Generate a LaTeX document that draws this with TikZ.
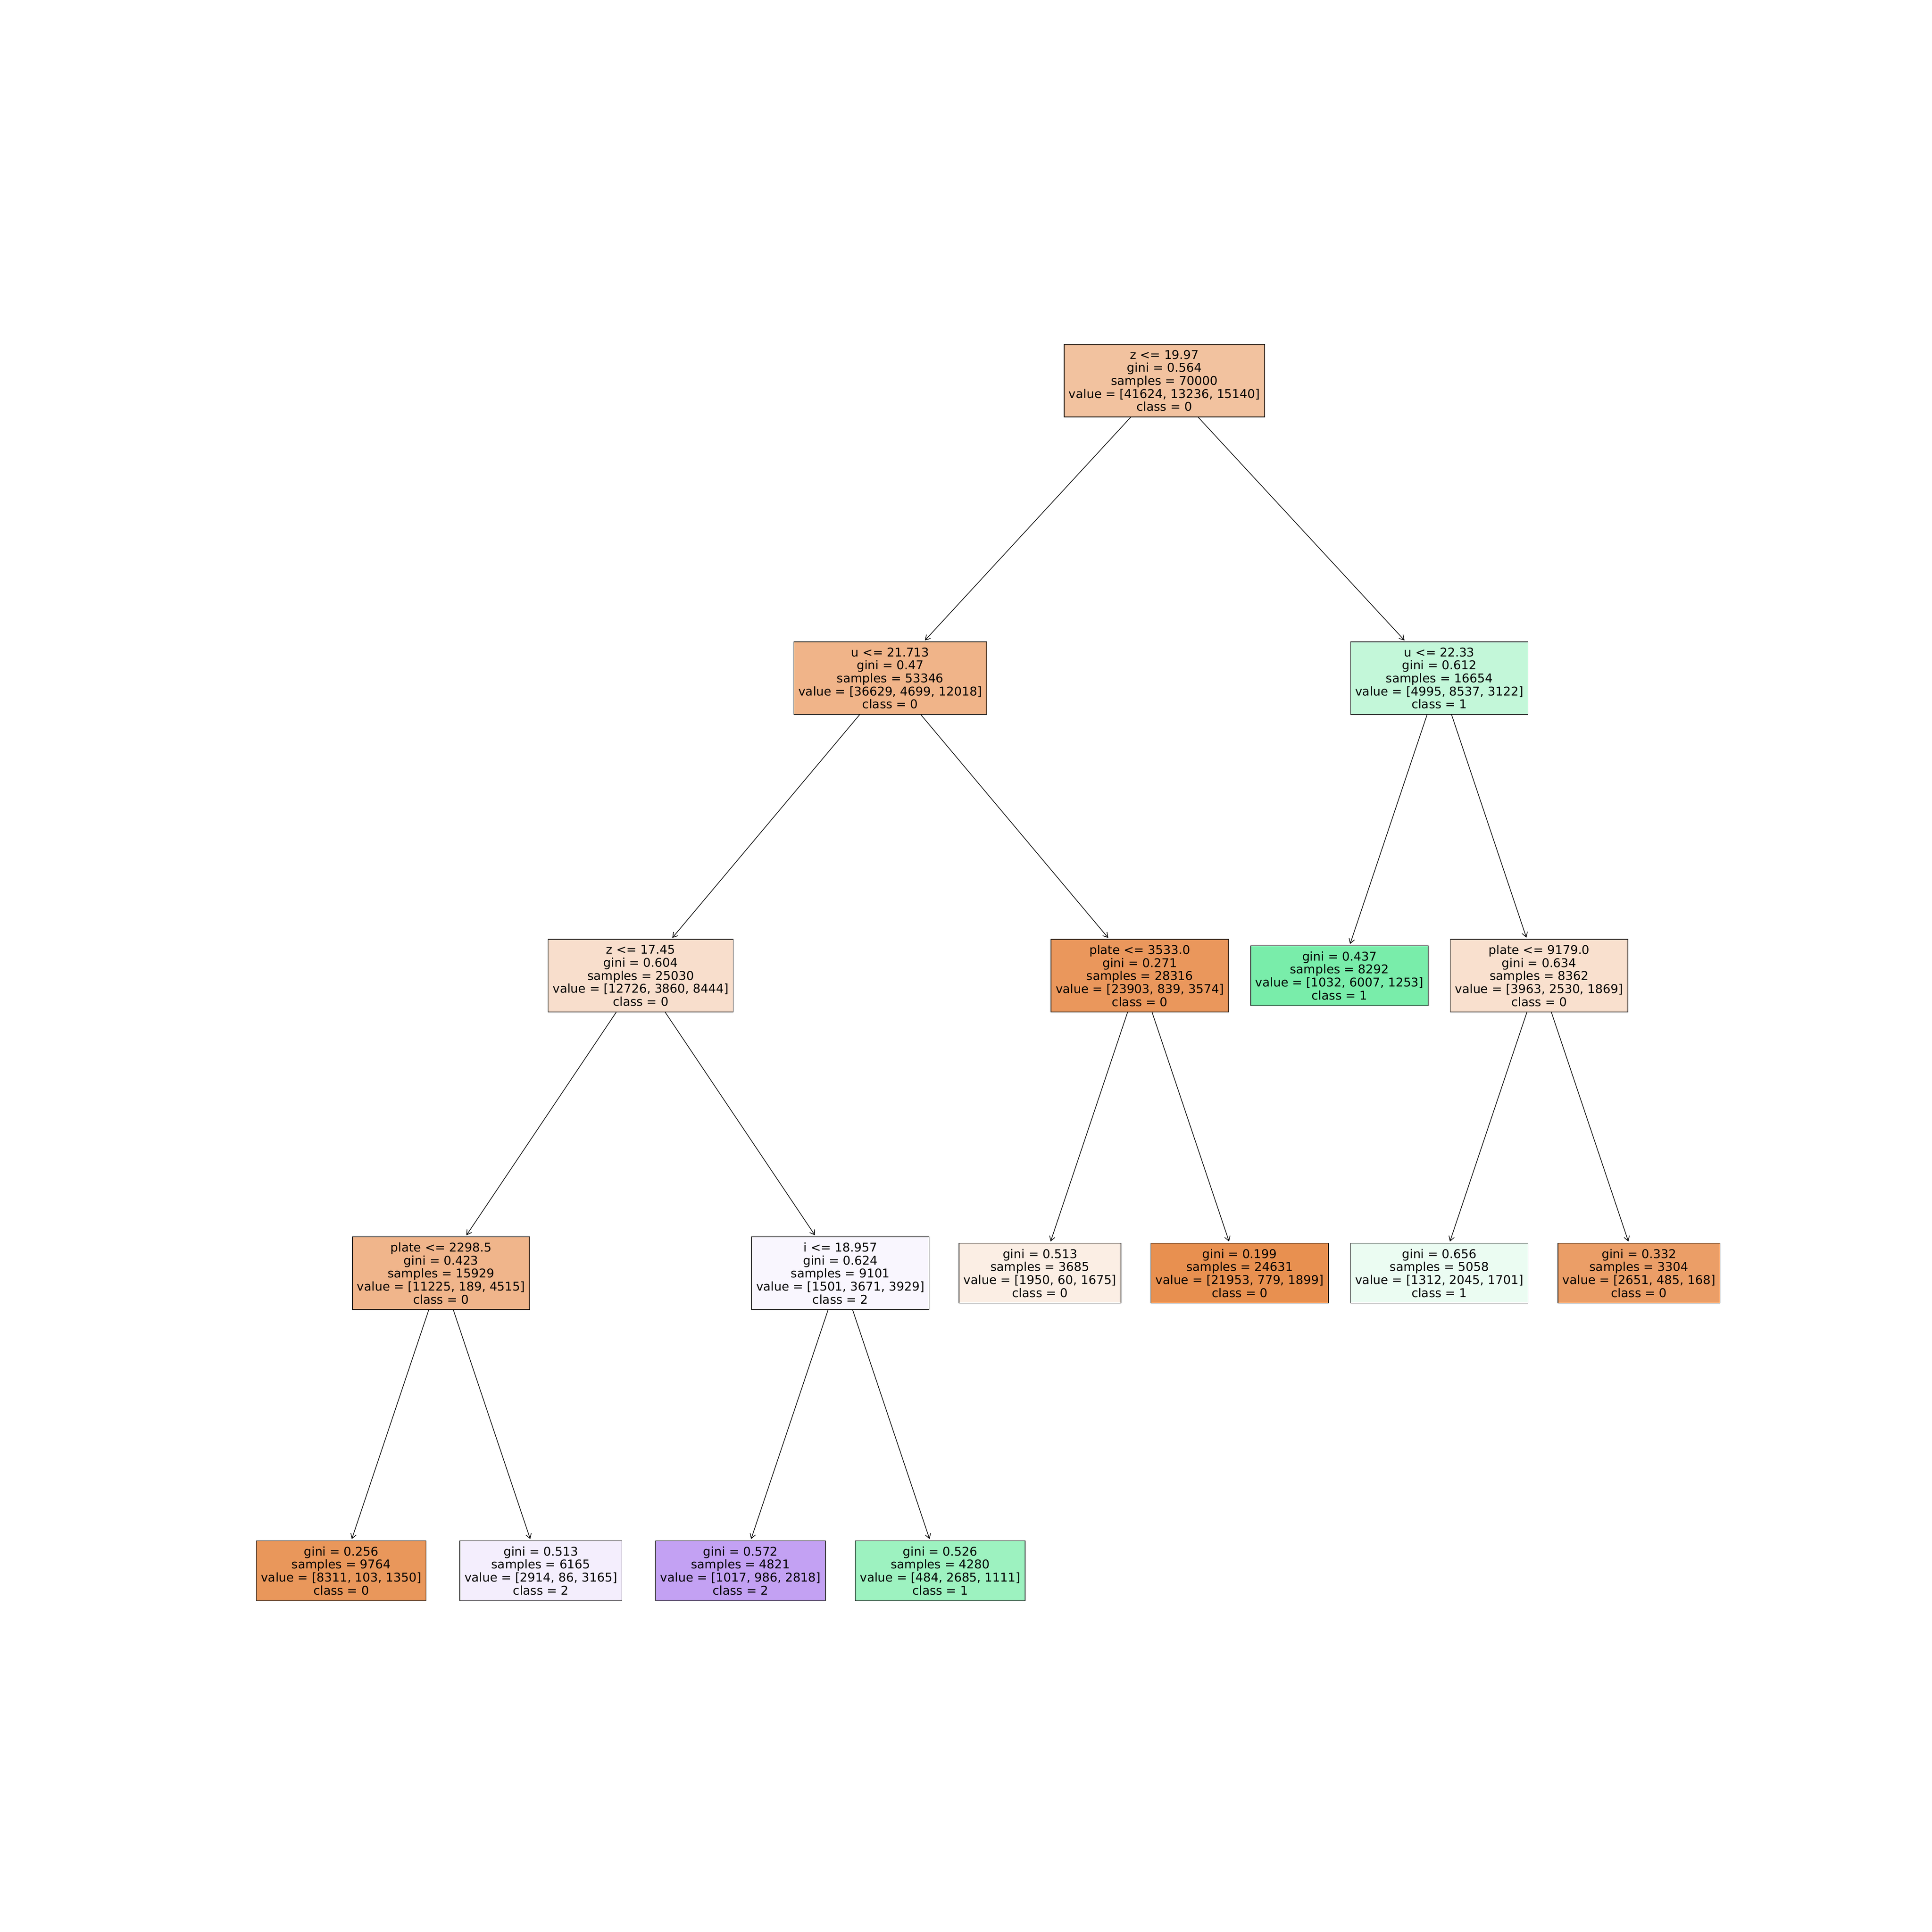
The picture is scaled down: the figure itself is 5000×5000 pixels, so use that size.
\documentclass[tikz,border=0pt]{standalone}
\usepackage{fontspec}
\setmainfont{DejaVu Sans}
\usetikzlibrary{arrows.meta}
\definecolor{cRoot}{RGB}{242,194,159}
\definecolor{cUa}{RGB}{240,180,137}
\definecolor{cUb}{RGB}{195,247,217}
\definecolor{cZb}{RGB}{248,222,204}
\definecolor{cPa}{RGB}{234,151,92}
\definecolor{cLa}{RGB}{121,237,170}
\definecolor{cPb}{RGB}{249,224,206}
\definecolor{cPc}{RGB}{240,181,139}
\definecolor{cIa}{RGB}{249,246,254}
\definecolor{cLb}{RGB}{251,238,228}
\definecolor{cLc}{RGB}{232,144,80}
\definecolor{cLd}{RGB}{235,252,242}
\definecolor{cLe}{RGB}{235,158,103}
\definecolor{cLf}{RGB}{233,151,91}
\definecolor{cLg}{RGB}{244,238,253}
\definecolor{cLh}{RGB}{195,161,243}
\definecolor{cLi}{RGB}{157,242,192}
\tikzset{
  treebox/.style={rectangle, draw=black, line width=0.45pt, align=center,
    inner xsep=3.6pt, inner ysep=0pt,
    font=\fontsize{9.4pt}{10.1pt}\selectfont},
  splitbox/.style={treebox, minimum height=56.4pt},
  leafbox/.style={treebox, minimum height=46.5pt},
  treeedge/.style={draw=black, line width=0.5pt,
    -{Straight Barb[length=3.6pt,width=4.4pt]}, shorten >=1.2pt}
}
\begin{document}
\begin{tikzpicture}[x=0.3pt,y=-0.3pt]
\path[use as bounding box, fill=white] (0,0) rectangle (5000,5000);
% level 0
\node[splitbox, fill=cRoot] (n0) at (3013.4,985) {z <= 19.97\\gini = 0.564\\samples = 70000\\value = [41624, 13236, 15140]\\class = 0};
% level 1
\node[splitbox, fill=cUa] (n1) at (2303.9,1755) {u <= 21.713\\gini = 0.47\\samples = 53346\\value = [36629, 4699, 12018]\\class = 0};
\node[splitbox, fill=cUb] (n2) at (3724.9,1755) {u <= 22.33\\gini = 0.612\\samples = 16654\\value = [4995, 8537, 3122]\\class = 1};
% level 2
\node[splitbox, fill=cZb] (n3) at (1658.1,2525) {z <= 17.45\\gini = 0.604\\samples = 25030\\value = [12726, 3860, 8444]\\class = 0};
\node[splitbox, fill=cPa] (n4) at (2949.8,2525) {plate <= 3533.0\\gini = 0.271\\samples = 28316\\value = [23903, 839, 3574]\\class = 0};
\node[leafbox, fill=cLa] (n5) at (3466.5,2525) {gini = 0.437\\samples = 8292\\value = [1032, 6007, 1253]\\class = 1};
\node[splitbox, fill=cPb] (n6) at (3983.2,2525) {plate <= 9179.0\\gini = 0.634\\samples = 8362\\value = [3963, 2530, 1869]\\class = 0};
% level 3
\node[splitbox, fill=cPc] (n7) at (1141.4,3295) {plate <= 2298.5\\gini = 0.423\\samples = 15929\\value = [11225, 189, 4515]\\class = 0};
\node[splitbox, fill=cIa] (n8) at (2174.8,3295) {i <= 18.957\\gini = 0.624\\samples = 9101\\value = [1501, 3671, 3929]\\class = 2};
\node[leafbox, fill=cLb] (n9) at (2691.5,3295) {gini = 0.513\\samples = 3685\\value = [1950, 60, 1675]\\class = 0};
\node[leafbox, fill=cLc] (n10) at (3208.2,3295) {gini = 0.199\\samples = 24631\\value = [21953, 779, 1899]\\class = 0};
\node[leafbox, fill=cLd] (n11) at (3724.9,3295) {gini = 0.656\\samples = 5058\\value = [1312, 2045, 1701]\\class = 1};
\node[leafbox, fill=cLe] (n12) at (4241.6,3295) {gini = 0.332\\samples = 3304\\value = [2651, 485, 168]\\class = 0};
% level 4
\node[leafbox, fill=cLf] (n13) at (883,4065) {gini = 0.256\\samples = 9764\\value = [8311, 103, 1350]\\class = 0};
\node[leafbox, fill=cLg] (n14) at (1399.7,4065) {gini = 0.513\\samples = 6165\\value = [2914, 86, 3165]\\class = 2};
\node[leafbox, fill=cLh] (n15) at (1916.4,4065) {gini = 0.572\\samples = 4821\\value = [1017, 986, 2818]\\class = 2};
\node[leafbox, fill=cLi] (n16) at (2433.1,4065) {gini = 0.526\\samples = 4280\\value = [484, 2685, 1111]\\class = 1};
% edges
\draw[treeedge] (n0) -- (n1);
\draw[treeedge] (n0) -- (n2);
\draw[treeedge] (n1) -- (n3);
\draw[treeedge] (n1) -- (n4);
\draw[treeedge] (n2) -- (n5);
\draw[treeedge] (n2) -- (n6);
\draw[treeedge] (n3) -- (n7);
\draw[treeedge] (n3) -- (n8);
\draw[treeedge] (n4) -- (n9);
\draw[treeedge] (n4) -- (n10);
\draw[treeedge] (n6) -- (n11);
\draw[treeedge] (n6) -- (n12);
\draw[treeedge] (n7) -- (n13);
\draw[treeedge] (n7) -- (n14);
\draw[treeedge] (n8) -- (n15);
\draw[treeedge] (n8) -- (n16);
\end{tikzpicture}
\end{document}
